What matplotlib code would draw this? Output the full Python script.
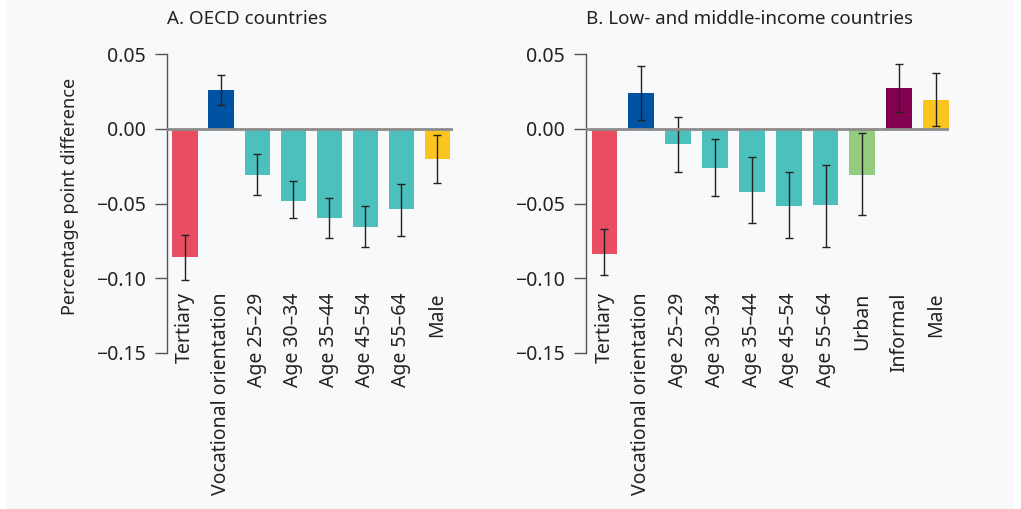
import matplotlib.pyplot as plt
from matplotlib.patches import Rectangle
import numpy as np

plt.rcParams['font.family'] = ['Noto Sans', 'DejaVu Sans']

# panel A: OECD countries
oecd_labels = ['Tertiary', 'Vocational orientation', 'Age 25\u201329', 'Age 30\u201334',
               'Age 35\u201344', 'Age 45\u201354', 'Age 55\u201364', 'Male']
oecd_values = [-0.086, 0.026, -0.031, -0.048, -0.060, -0.066, -0.054, -0.020]
oecd_low = [-0.101, 0.016, -0.044, -0.060, -0.073, -0.079, -0.072, -0.036]
oecd_high = [-0.071, 0.036, -0.017, -0.035, -0.046, -0.052, -0.037, -0.004]
oecd_colors = ['#e84d61', '#0052a3', '#4bc0bc', '#4bc0bc', '#4bc0bc', '#4bc0bc', '#4bc0bc', '#fbc41f']

# panel B: low- and middle-income countries
lmic_labels = ['Tertiary', 'Vocational orientation', 'Age 25\u201329', 'Age 30\u201334',
               'Age 35\u201344', 'Age 45\u201354', 'Age 55\u201364', 'Urban', 'Informal', 'Male']
lmic_values = [-0.084, 0.024, -0.010, -0.026, -0.042, -0.052, -0.051, -0.031, 0.027, 0.019]
lmic_low = [-0.098, 0.006, -0.029, -0.045, -0.063, -0.073, -0.079, -0.058, 0.011, 0.002]
lmic_high = [-0.067, 0.042, 0.008, -0.007, -0.019, -0.029, -0.024, -0.003, 0.043, 0.037]
lmic_colors = ['#e84d61', '#0052a3', '#4bc0bc', '#4bc0bc', '#4bc0bc', '#4bc0bc', '#4bc0bc',
               '#93cb7f', '#840050', '#fbc41f']

W, H = 1021, 509
fig = plt.figure(figsize=(W / 100, H / 100), dpi=100)
fig.patch.set_facecolor('white')
fig.patches.append(Rectangle((6 / W, 0), 1008 / W, 1, transform=fig.transFigure,
                             facecolor='#f8f9fb', edgecolor='none', zorder=-10))


def panel(rect, labels, values, low, high, colors, title, xmax):
    ax = fig.add_axes(rect)
    ax.set_facecolor('none')
    x = np.arange(len(labels))
    vals = np.array(values)
    err = np.array([vals - np.array(low), np.array(high) - vals])
    ax.bar(x, vals, width=0.7, color=colors, zorder=2)
    ax.errorbar(x, vals, yerr=err, fmt='none', ecolor='#222222', elinewidth=1,
                capsize=3, capthick=1, zorder=3)
    ax.axhline(0, color='#8c8c8c', lw=2, zorder=4)
    ax.set_xlim(-0.5, xmax)
    ax.set_ylim(-0.15, 0.05)
    ax.set_yticks([0.05, 0.0, -0.05, -0.10, -0.15])
    ax.set_yticklabels(['0.05', '0.00', '\u22120.05', '\u22120.10', '\u22120.15'])
    ax.set_xticks([])
    # category labels hang just below the deepest bars, not at the axis bottom
    for xi, lab in zip(x, labels):
        ax.text(xi, -0.1095, lab, rotation=90, ha='center', va='top', fontsize=14,
                color='#222222', clip_on=False)
    ax.tick_params(axis='y', length=9, width=1, color='#555555', labelsize=14,
                   labelcolor='#222222', pad=6)
    for s in ['top', 'right', 'bottom']:
        ax.spines[s].set_visible(False)
    ax.spines['left'].set_color('#555555')
    ax.spines['left'].set_linewidth(1)
    fig.text(rect[0], 1 - 19 / H, title, ha='left', va='center', fontsize=13.5, color='#222222')
    return ax


ax1 = panel([167 / W, 1 - 353 / H, 286 / W, 299 / H], oecd_labels, oecd_values,
            oecd_low, oecd_high, oecd_colors, 'A. OECD countries', 7.43)
ax1.set_ylabel('Percentage point difference', fontsize=13, color='#222222')
ax1.yaxis.set_label_coords(-0.308, 0.525)
ax2 = panel([586 / W, 1 - 353 / H, 363 / W, 299 / H], lmic_labels, lmic_values,
            lmic_low, lmic_high, lmic_colors, 'B. Low- and middle-income countries', 9.35)

fig.savefig('out.png', dpi=100)
